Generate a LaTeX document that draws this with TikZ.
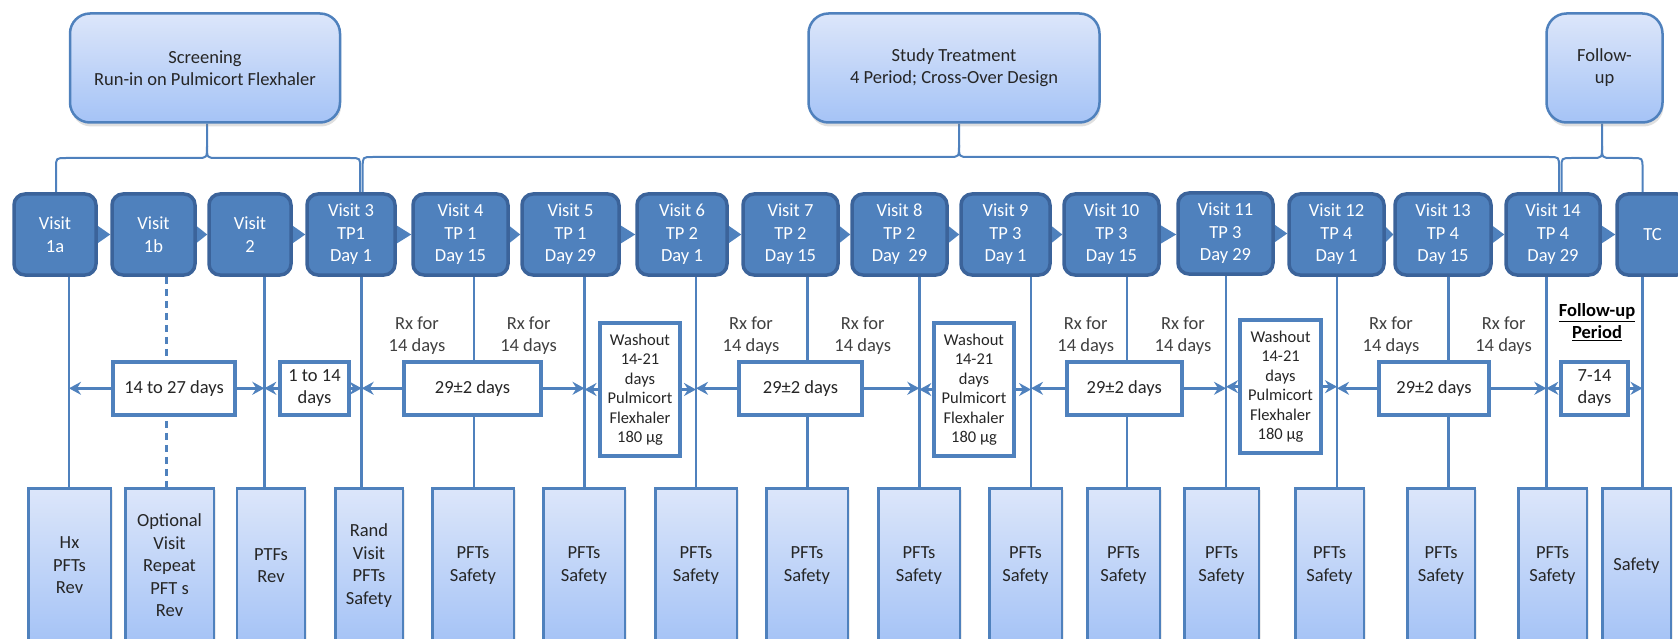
\documentclass[tikz,border=0pt]{standalone}
\usepackage{fontspec}
\setmainfont{Carlito}
\usetikzlibrary{arrows.meta,shadows,backgrounds,calc}
\definecolor{vfill}{HTML}{4F81BD}
\definecolor{vborder}{HTML}{3B639A}
\definecolor{lblue}{HTML}{4F81BD}
\definecolor{gtop}{HTML}{DCE6FA}
\definecolor{gbot}{HTML}{A5C3F6}
\definecolor{txt}{HTML}{262626}
\definecolor{rxtxt}{HTML}{404040}
\tikzset{
 phase/.style={draw=lblue, line width=2.5pt, rounded corners=20pt, top color=gtop, bottom color=gbot, align=center, text=txt, font=\fontsize{18.5}{22}\selectfont, inner sep=0pt, minimum height=109pt, drop shadow={opacity=0.25, shadow xshift=1pt, shadow yshift=-4pt}},
 visit/.style={draw=vborder, fill=vfill, line width=3.5pt, rounded corners=11pt, align=center, text=white, font=\fontsize{18.5}{22.5}\selectfont, inner sep=0pt, minimum height=81pt},
 task/.style={draw=lblue, line width=2.5pt, top color=gtop, bottom color=gbot, align=center, text=txt, font=\fontsize{18.5}{22.5}\selectfont, inner sep=0pt, minimum height=154pt, anchor=north, drop shadow={opacity=0.15, shadow xshift=2pt, shadow yshift=-1pt}},
 dur/.style={draw=lblue, line width=4pt, fill=white, align=center, text=txt, font=\fontsize{18.5}{22}\selectfont, inner sep=0pt, minimum height=52.5pt},
 wash/.style={draw=lblue, line width=4pt, fill=white, align=center, text=txt, font=\fontsize{16.5}{19.5}\selectfont, inner sep=0pt, minimum height=133pt},
 rx/.style={align=center, text=rxtxt, font=\fontsize{18.5}{22}\selectfont, inner sep=0pt},
 link/.style={draw=lblue, line width=2.5pt},
 brace/.style={draw=lblue, line width=2pt},
 span/.style={draw=lblue, line width=3pt, -{Stealth[length=12pt,width=13pt,inset=4pt]}},
 chev/.style={fill=vfill},
}
\newcommand{\phasebrace}[4]{%
 \draw[brace] (#1) -- ($(#1 |- #4)+(0,10)$) .. controls (#1 |- #4) .. ($(#1 |- #4)+(10,0)$) -- ($(#2 |- #4)+(-10,0)$) .. controls (#2 |- #4) .. ($(#2 |- #4)+(0,-12)$) -- (#2);
 \draw[brace] ($(#2 |- #4)+(0,-12)$) .. controls (#2 |- #4) .. ($(#2 |- #4)+(10,0)$) -- ($(#3 |- #4)+(-10,0)$) .. controls (#3 |- #4) .. ($(#3 |- #4)+(0,10)$) -- (#3);
}
\begin{document}
\begin{tikzpicture}[x=1pt,y=-1pt]
\useasboundingbox (0,0) rectangle (1678,639);
\clip (0,0) rectangle (1678,639);
% phase boxes
\node[phase, minimum width=270pt] (scr) at (205,68) {Screening\\Run-in on Pulmicort Flexhaler};
\node[phase, minimum width=291pt] (stu) at (954,68) {Study Treatment\\4 Period; Cross-Over Design};
\node[phase, minimum width=116pt] (fol) at (1604.5,68) {Follow-\\up};
% visits
\node[visit, minimum width=82pt] (v1a) at (55,234.5) {Visit\\1a};
\node[visit, minimum width=83pt] (v1b) at (153.5,234.5) {Visit\\1b};
\node[visit, minimum width=82pt] (v2) at (250,234.5) {Visit\\2};
\node[visit, minimum width=88pt] (v3) at (351,234.5) {Visit 3\\TP1\\Day 1};
\node[visit, minimum width=95pt] (v4) at (460.5,234.5) {Visit 4\\TP 1\\Day 15};
\node[visit, minimum width=97pt] (v5) at (570.5,234.5) {Visit 5\\TP 1\\Day 29};
\node[visit, minimum width=90pt] (v6) at (682,234.5) {Visit 6\\TP 2\\Day 1};
\node[visit, minimum width=95pt] (v7) at (790.5,234.5) {Visit 7\\TP 2\\Day 15};
\node[visit, minimum width=95pt] (v8) at (899.5,234.5) {Visit 8\\TP 2\\Day\ \ 29};
\node[visit, minimum width=89pt] (v9) at (1005.5,234.5) {Visit 9\\TP 3\\Day 1};
\node[visit, minimum width=95pt] (v10) at (1111.5,234.5) {Visit 10\\TP 3\\Day 15};
\node[visit, minimum width=95pt] (v11) at (1225.5,233.5) {Visit 11\\TP 3\\Day 29};
\node[visit, minimum width=95pt] (v12) at (1336.5,234.5) {Visit 12\\TP 4\\Day 1};
\node[visit, minimum width=96pt] (v13) at (1443,234.5) {Visit 13\\TP 4\\Day 15};
\node[visit, minimum width=94pt] (v14) at (1553,234.5) {Visit 14\\TP 4\\Day 29};
\node[visit, minimum width=71pt] (tc) at (1652.5,234.5) {TC};
% bottom boxes
\node[task, minimum width=82.5pt] (b1) at (69.5,487.25) {Hx\\PFTs\\Rev};
\node[task, minimum width=88.5pt] (b2) at (169.5,487.25) {Optional\\Visit\\Repeat\\PFT s\\Rev};
\node[task, minimum width=68pt] (b3) at (271,487.25) {PTFs\\Rev};
\node[task, minimum width=67.5pt] (b4) at (369,487.25) {Rand\\Visit\\PFTs\\Safety};
\node[task, minimum width=81.5pt] (b5) at (473,487.25) {PFTs\\Safety};
\node[task, minimum width=81.5pt] (b6) at (584,487.25) {PFTs\\Safety};
\node[task, minimum width=81.5pt] (b7) at (696,487.25) {PFTs\\Safety};
\node[task, minimum width=81.5pt] (b8) at (807,487.25) {PFTs\\Safety};
\node[task, minimum width=81.5pt] (b9) at (919,487.25) {PFTs\\Safety};
\node[task, minimum width=72.5pt] (b10) at (1025.5,487.25) {PFTs\\Safety};
\node[task, minimum width=72.5pt] (b11) at (1123.5,487.25) {PFTs\\Safety};
\node[task, minimum width=74.5pt] (b12) at (1221.5,487.25) {PFTs\\Safety};
\node[task, minimum width=68.5pt] (b13) at (1329.5,487.25) {PFTs\\Safety};
\node[task, minimum width=67.5pt] (b14) at (1441,487.25) {PFTs\\Safety};
\node[task, minimum width=68.5pt] (b15) at (1552.5,487.25) {PFTs\\Safety};
\node[task, minimum width=68.5pt] (b16) at (1636.5,487.25) {Safety};
% duration boxes
\node[dur, minimum width=122pt] (d1) at (174,388.3) {14 to 27 days};
\node[dur, minimum width=69pt] (d2) at (314.5,388.3) {1 to 14\\days};
\node[dur, minimum width=137pt] (d3) at (472.5,388.3) {29±2 days};
\node[wash, minimum width=80pt] (w1) at (640,389.5) {Washout\\14-21\\days\\Pulmicort\\Flexhaler\\180 µg};
\node[dur, minimum width=123pt] (d4) at (800.5,388.3) {29±2 days};
\node[wash, minimum width=80.5pt] (w2) at (974,389.5) {Washout\\14-21\\days\\Pulmicort\\Flexhaler\\180 µg};
\node[dur, minimum width=115.4pt] (d5) at (1124.3,388.3) {29±2 days};
\node[wash, minimum width=81pt] (w3) at (1280.5,386.7) {Washout\\14-21\\days\\Pulmicort\\Flexhaler\\180 µg};
\node[dur, minimum width=110pt] (d6) at (1434,388.3) {29±2 days};
\node[dur, minimum width=67pt] (d7) at (1594.5,388.3) {7-14\\days};
% Rx labels
\node[rx] (rx1) at (417,336) {Rx for\\14 days};
\node[rx] (rx2) at (528.6,336) {Rx for\\14 days};
\node[rx] (rx3) at (751,336) {Rx for\\14 days};
\node[rx] (rx4) at (862.7,336) {Rx for\\14 days};
\node[rx] (rx5) at (1085.7,336) {Rx for\\14 days};
\node[rx] (rx6) at (1183,336) {Rx for\\14 days};
\node[rx] (rx7) at (1391,336) {Rx for\\14 days};
\node[rx] (rx8) at (1503.6,336) {Rx for\\14 days};
\node[rx, text=black, font=\bfseries\fontsize{18.5}{21.5}\selectfont] (fup) at (1597,322) {\underline{Follow-up}\\\underline{Period}};
% line positions
\coordinate (x1) at (69,0);
\coordinate (x2) at (166.7,0);
\coordinate (x3) at (264.3,0);
\coordinate (x4) at (361.7,0);
\coordinate (x5) at (474,0);
\coordinate (x6) at (584.5,0);
\coordinate (x7) at (696,0);
\coordinate (x8) at (807.5,0);
\coordinate (x9) at (919.3,0);
\coordinate (x10) at (1031,0);
\coordinate (x11) at (1127,0);
\coordinate (x12) at (1226,0);
\coordinate (x13) at (1337,0);
\coordinate (x14) at (1448.5,0);
\coordinate (x15) at (1546.3,0);
\coordinate (x16) at (1642.5,0);
% brace anchors
\coordinate (byA) at (0,158);
\coordinate (byB) at (0,157);
\coordinate (sL) at ($(v1a.north)+(1,0)$);
\coordinate (sT) at ($(scr.south)+(2,0)$);
\coordinate (sR) at ($(x4 |- v3.north)+(-1.5,0)$);
\coordinate (tL) at ($(x4 |- v3.north)+(1,0)$);
\coordinate (tT) at ($(stu.south)+(5,0)$);
\coordinate (tR) at ($(v14.north)+(6,0)$);
\coordinate (fL) at ($(v14.north)+(8.5,0)$);
\coordinate (fT) at ($(fol.south)+(-2.5,0)$);
\coordinate (fR) at (x16 |- tc.north);
\begin{pgfonlayer}{background}
\phasebrace{sL}{sT}{sR}{byA}
\phasebrace{tL}{tT}{tR}{byB}
\phasebrace{fL}{fT}{fR}{byA}
\foreach \v/\b/\x in {v1a/b1/x1, v2/b3/x3, v3/b4/x4, v4/b5/x5, v5/b6/x6, v6/b7/x7, v7/b8/x8, v8/b9/x9, v9/b10/x10, v10/b11/x11, v11/b12/x12, v12/b13/x13, v13/b14/x14, v14/b15/x15, tc/b16/x16}
  \draw[link] (\x |- \v.south) -- (\x |- \b.north);
\draw[link, dash pattern=on 7pt off 5pt] (x2 |- v1b.south) -- (x2 |- b2.north);
\foreach \a/\b in {v1a/v1b, v1b/v2, v2/v3, v3/v4, v4/v5, v5/v6, v6/v7, v7/v8, v8/v9, v9/v10, v10/v11, v11/v12, v12/v13, v13/v14, v14/tc}
  \fill[chev] ($(\a.east)+(-4,-11.5)$) -- ($(\a.east)+(-4,11.5)$) -- (\b.west |- \a.east) -- cycle;
\end{pgfonlayer}
% span arrows
\foreach \n/\l/\r in {d1/x1/x3, d2/x3/x4, d3/x4/x6, w1/x6/x7, d4/x7/x9, w2/x9/x10, d5/x10/x12, w3/x12/x13, d6/x13/x15, d7/x15/x16} {
  \draw[span] (\n.west) -- (\l |- \n.west);
  \draw[span] (\n.east) -- (\r |- \n.east);
}
\end{tikzpicture}
\end{document}
